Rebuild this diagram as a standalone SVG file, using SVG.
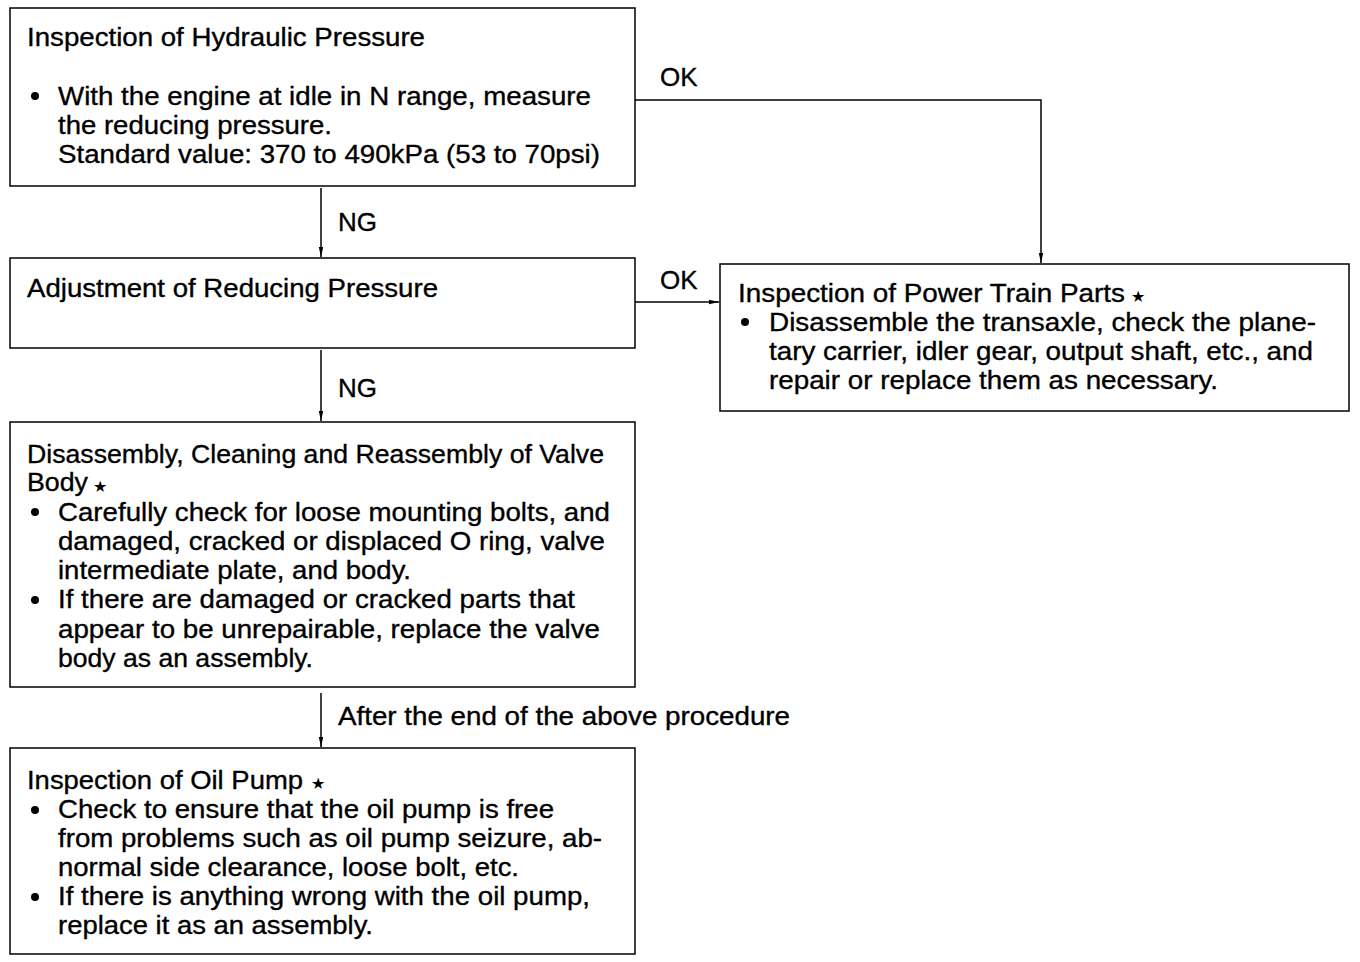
<svg xmlns="http://www.w3.org/2000/svg" width="1360" height="962" viewBox="0 0 1360 962">
<style>
.box{fill:#fff;stroke:#000;stroke-width:1.5}
.t{font-family:"Liberation Sans",Arial,sans-serif;font-size:26px;fill:#000;stroke:#000;stroke-width:0.35}
.star{font-family:"DejaVu Sans",sans-serif;font-size:16px;fill:#000}
.bul{fill:#000}
.c{fill:none;stroke:#000;stroke-width:1.5}
</style>
<defs>
<marker id="ah" viewBox="0 0 10 6" refX="10" refY="3" markerWidth="10" markerHeight="6" markerUnits="userSpaceOnUse" orient="auto">
<path d="M0,0.8 L10,3 L0,5.2 Z" fill="#000"/>
</marker>
</defs>
<rect width="1360" height="962" fill="#fff"/>
<g id="connectors">
<path class="c" d="M321,188 V257" marker-end="url(#ah)"/>
<path class="c" d="M635,100 H1041 V263" marker-end="url(#ah)"/>
<path class="c" d="M635,302 H719" marker-end="url(#ah)"/>
<path class="c" d="M321,350 V421" marker-end="url(#ah)"/>
<path class="c" d="M321,693 V747" marker-end="url(#ah)"/>
<text class="t" x="660" y="86">OK</text>
<text class="t" x="338" y="231">NG</text>
<text class="t" x="660" y="289">OK</text>
<text class="t" x="338" y="397">NG</text>
<text class="t" x="338" y="725" textLength="452" lengthAdjust="spacingAndGlyphs">After the end of the above procedure</text>
</g>
<g id="n1">
<rect class="box" x="10" y="8" width="625" height="178"/>
<text class="t" x="27" y="46" textLength="398" lengthAdjust="spacingAndGlyphs">Inspection of Hydraulic Pressure</text>
<circle class="bul" cx="35" cy="96" r="4"/>
<text class="t" x="58" y="105" textLength="533" lengthAdjust="spacingAndGlyphs">With the engine at idle in N range, measure</text>
<text class="t" x="58" y="134" textLength="274" lengthAdjust="spacingAndGlyphs">the reducing pressure.</text>
<text class="t" x="58" y="163" textLength="542" lengthAdjust="spacingAndGlyphs">Standard value: 370 to 490kPa (53 to 70psi)</text>
</g>
<g id="n2">
<rect class="box" x="10" y="258" width="625" height="90"/>
<text class="t" x="27" y="297" textLength="411" lengthAdjust="spacingAndGlyphs">Adjustment of Reducing Pressure</text>
</g>
<g id="n5">
<rect class="box" x="720" y="264" width="629" height="147"/>
<text class="t" x="738" y="302" textLength="387" lengthAdjust="spacingAndGlyphs">Inspection of Power Train Parts</text>
<text class="star" x="1131" y="302">★</text>
<circle class="bul" cx="745" cy="322" r="4"/>
<text class="t" x="769" y="331" textLength="547" lengthAdjust="spacingAndGlyphs">Disassemble the transaxle, check the plane-</text>
<text class="t" x="769" y="360" textLength="544" lengthAdjust="spacingAndGlyphs">tary carrier, idler gear, output shaft, etc., and</text>
<text class="t" x="769" y="389" textLength="449" lengthAdjust="spacingAndGlyphs">repair or replace them as necessary.</text>
</g>
<g id="n3">
<rect class="box" x="10" y="422" width="625" height="265"/>
<text class="t" x="27" y="463" textLength="577" lengthAdjust="spacingAndGlyphs">Disassembly, Cleaning and Reassembly of Valve</text>
<text class="t" x="27" y="491" textLength="61" lengthAdjust="spacingAndGlyphs">Body</text>
<text class="star" x="93" y="492">★</text>
<circle class="bul" cx="35" cy="512" r="4"/>
<text class="t" x="58" y="521" textLength="552" lengthAdjust="spacingAndGlyphs">Carefully check for loose mounting bolts, and</text>
<text class="t" x="58" y="550" textLength="547" lengthAdjust="spacingAndGlyphs">damaged, cracked or displaced O ring, valve</text>
<text class="t" x="58" y="579" textLength="353" lengthAdjust="spacingAndGlyphs">intermediate plate, and body.</text>
<circle class="bul" cx="35" cy="600" r="4"/>
<text class="t" x="58" y="608" textLength="517" lengthAdjust="spacingAndGlyphs">If there are damaged or cracked parts that</text>
<text class="t" x="58" y="638" textLength="542" lengthAdjust="spacingAndGlyphs">appear to be unrepairable, replace the valve</text>
<text class="t" x="58" y="667" textLength="255" lengthAdjust="spacingAndGlyphs">body as an assembly.</text>
</g>
<g id="n4">
<rect class="box" x="10" y="748" width="625" height="206"/>
<text class="t" x="27" y="789" textLength="276" lengthAdjust="spacingAndGlyphs">Inspection of Oil Pump</text>
<text class="star" x="311" y="789">★</text>
<circle class="bul" cx="35" cy="810" r="4"/>
<text class="t" x="58" y="818" textLength="496" lengthAdjust="spacingAndGlyphs">Check to ensure that the oil pump is free</text>
<text class="t" x="58" y="847" textLength="544" lengthAdjust="spacingAndGlyphs">from problems such as oil pump seizure, ab-</text>
<text class="t" x="58" y="876" textLength="461" lengthAdjust="spacingAndGlyphs">normal side clearance, loose bolt, etc.</text>
<circle class="bul" cx="35" cy="897" r="4"/>
<text class="t" x="58" y="905" textLength="532" lengthAdjust="spacingAndGlyphs">If there is anything wrong with the oil pump,</text>
<text class="t" x="58" y="934" textLength="315" lengthAdjust="spacingAndGlyphs">replace it as an assembly.</text>
</g>
</svg>
